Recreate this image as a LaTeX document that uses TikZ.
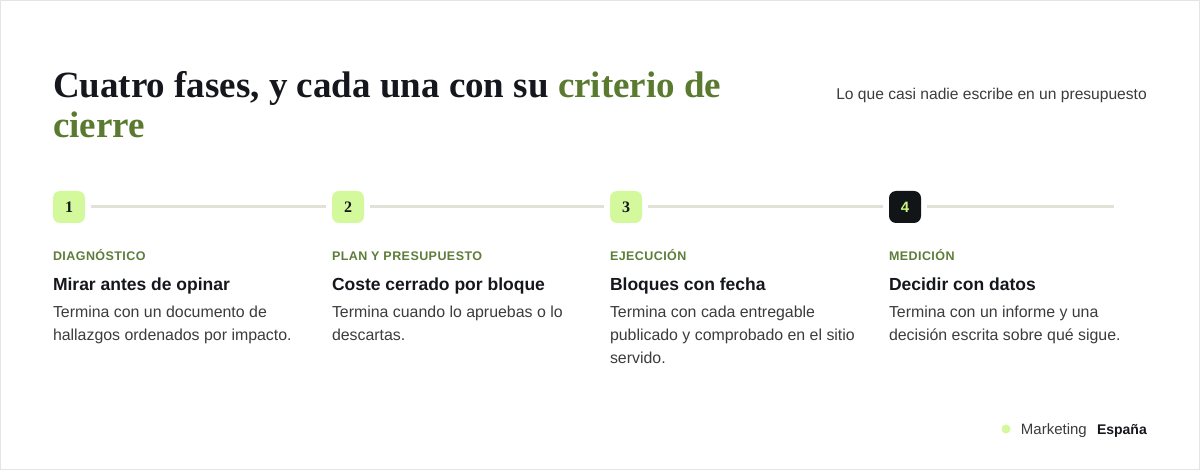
\documentclass[tikz,border=0pt]{standalone}
\usepackage{fontspec}
\setmainfont{Liberation Sans}
\newfontfamily\titlefont{Liberation Serif}
\newfontfamily\labfont[LetterSpace=3.5]{Liberation Sans}
\definecolor{ink}{HTML}{15171C}
\definecolor{leaf}{HTML}{5A7A2F}
\definecolor{labgreen}{HTML}{5F7D3A}
\definecolor{lime}{HTML}{D4F99C}
\definecolor{night}{HTML}{121518}
\definecolor{limetext}{HTML}{C8F57F}
\definecolor{track}{HTML}{E1E1D8}
\definecolor{bodygray}{HTML}{3C3C3C}
\definecolor{frame}{HTML}{E4E4E4}
\begin{document}
\begin{tikzpicture}[x=1pt,y=-1pt,
  txt/.style={anchor=base west, inner sep=0pt, outer sep=0pt},
  badge/.style={minimum size=32pt, inner sep=0pt, rounded corners=7pt, fill=lime, text=ink,
    font=\titlefont\bfseries\fontsize{16}{16}\selectfont},
  darkbadge/.style={badge, fill=night, text=limetext, font=\bfseries\fontsize{15}{15}\selectfont},
  trackline/.style={draw=track, line width=3pt, shorten <=6pt, shorten >=6pt},
  phase/.style={txt, text=labgreen, font=\labfont\bfseries\fontsize{12.5}{14}\selectfont},
  head/.style={txt, text=ink, font=\bfseries\fontsize{17.5}{20}\selectfont},
  body/.style={txt, text=bodygray, font=\fontsize{15.9}{22.5}\selectfont},
  ]
\path[fill=white] (0,0) rectangle (1200,470);
\draw[frame, line width=1pt] (0.5,0.5) rectangle (1199.5,469.5);
\useasboundingbox (0,0) rectangle (1200,470);

% title
\node[txt, text=ink, font=\titlefont\bfseries\fontsize{37}{40}\selectfont] (t1) at (53,98)
  {Cuatro fases, y cada una con su {\color{leaf}criterio de}};
\node[txt, text=leaf, font=\titlefont\bfseries\fontsize{37}{40}\selectfont] (t2) at (53,138) {cierre};
\node[anchor=base east, inner sep=0pt, text=bodygray, font=\fontsize{15.6}{16}\selectfont] (sub) at (1147,100)
  {Lo que casi nadie escribe en un presupuesto};

% badges
\node[badge] (b1) at (69,207) {1};
\node[badge] (b2) at (348,207) {2};
\node[badge] (b3) at (626,207) {3};
\node[darkbadge] (b4) at (905,207) {4};
\coordinate (end) at (1120,207);
\draw[trackline] (b1) -- (b2);
\draw[trackline] (b2) -- (b3);
\draw[trackline] (b3) -- (b4);
\draw[trackline] (b4) -- (end);

% column 1
\node[phase] (p1) at (53,261) {DIAGNÓSTICO};
\node[head] (h1) at (53,291) {Mirar antes de opinar};
\node[body] (d1a) at (53,318) {Termina con un documento de};
\node[body] (d1b) at (53,340.5) {hallazgos ordenados por impacto.};
% column 2
\node[phase] (p2) at (332,261) {PLAN Y PRESUPUESTO};
\node[head] (h2) at (332,291) {Coste cerrado por bloque};
\node[body] (d2a) at (332,318) {Termina cuando lo apruebas o lo};
\node[body] (d2b) at (332,340.5) {descartas.};
% column 3
\node[phase] (p3) at (610,261) {EJECUCIÓN};
\node[head] (h3) at (610,291) {Bloques con fecha};
\node[body] (d3a) at (610,318) {Termina con cada entregable};
\node[body] (d3b) at (610,340.5) {publicado y comprobado en el sitio};
\node[body] (d3c) at (610,363) {servido.};
% column 4
\node[phase] (p4) at (889,261) {MEDICIÓN};
\node[head] (h4) at (889,291) {Decidir con datos};
\node[body] (d4a) at (889,318) {Termina con un informe y una};
\node[body] (d4b) at (889,340.5) {decisión escrita sobre qué sigue.};

% footer
\node[circle, fill=lime, minimum size=9pt, inner sep=0pt] (dot) at (1006,429) {};
\node[anchor=base east, inner sep=0pt, text=ink, font=\bfseries\fontsize{14}{16}\selectfont] (es) at (1147,434) {España};
\node[anchor=base east, inner sep=0pt, text=bodygray, font=\fontsize{15}{16}\selectfont] (mk) at (1087,434) {Marketing};
\end{tikzpicture}
\end{document}
